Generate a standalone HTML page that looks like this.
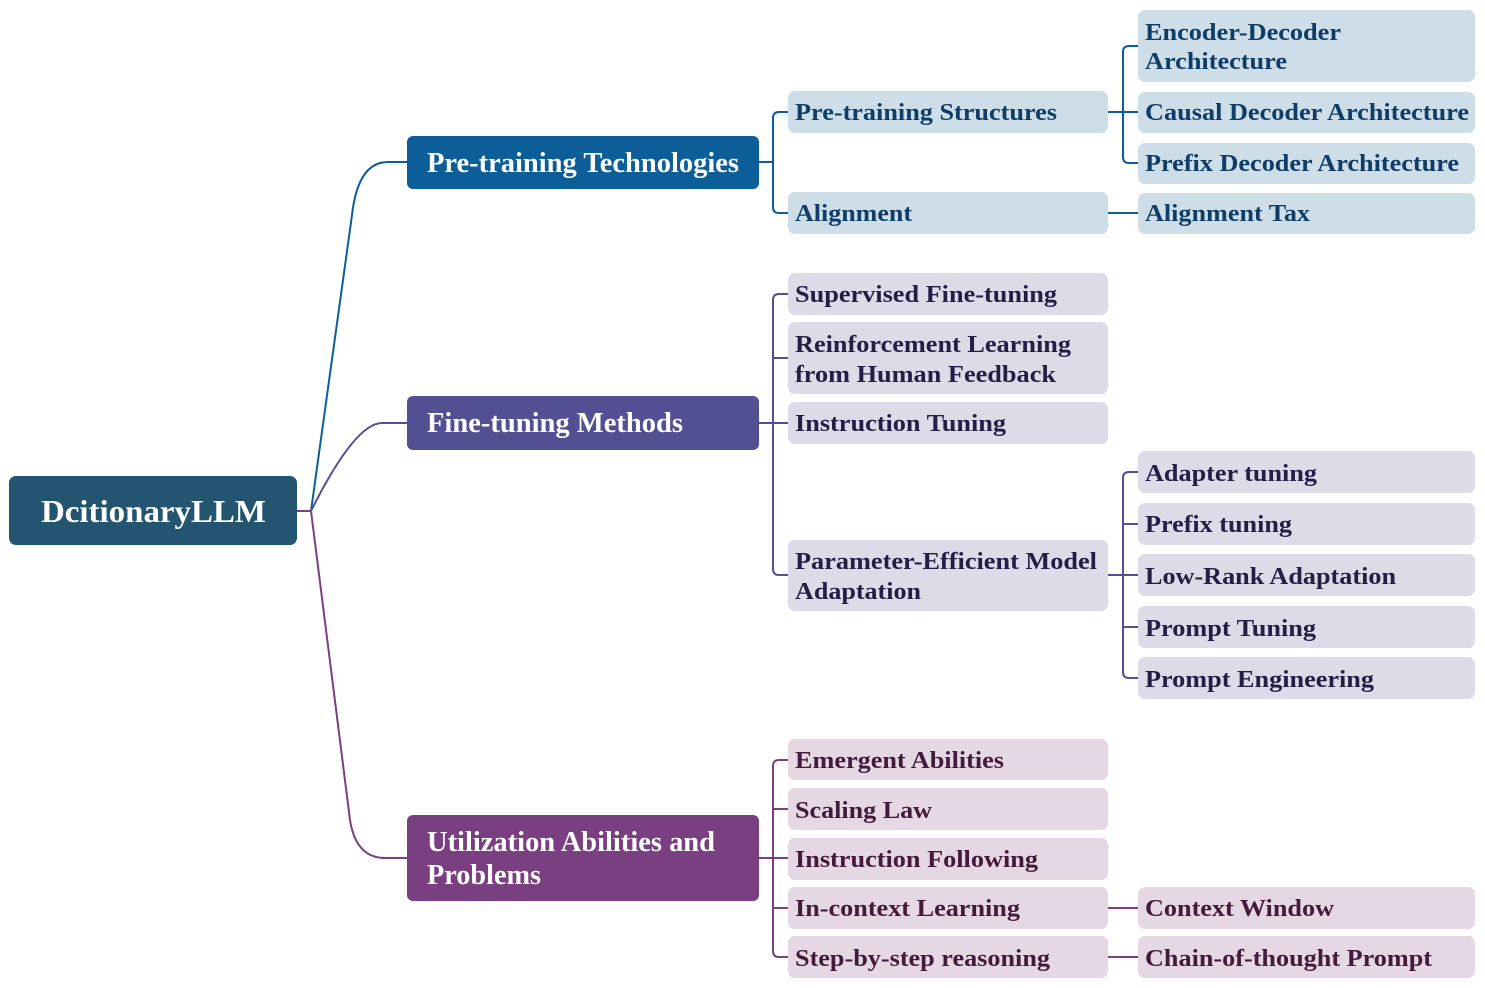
<!DOCTYPE html>
<html><head><meta charset="utf-8"><style>
html,body{margin:0;padding:0;background:#fff;}
svg{display:block;}
text{font-family:"Liberation Serif",serif;font-weight:bold;}
.t1{fill:#0f3d66;font-size:24px;}
.t2{fill:#261d45;font-size:24px;}
.t3{fill:#441a3c;font-size:24px;}
.w{fill:#fff;font-size:28px;}
</style></head><body>
<svg width="1485" height="988" viewBox="0 0 1485 988" xmlns="http://www.w3.org/2000/svg">
<g fill="none" stroke-width="2">
<path d="M297 511 H311 L352 215 Q358 162 388 162 H407" stroke="#0c5e99"/>
<path d="M311 511 Q355 423 382 423 H407" stroke="#524f93"/>
<path d="M297 511 H311 L350 820 Q356 858 385 858 H407" stroke="#7a3f80"/>
<g stroke="#0c5e99">
<path d="M759 162 H773"/>
<path d="M788 112 H779 Q773 112 773 118 V207 Q773 213 779 213 H788"/>
<path d="M1108 112 H1138"/>
<path d="M1138 46 H1129 Q1123 46 1123 52 V157 Q1123 163 1129 163 H1138"/>
<path d="M1108 213 H1138"/>
</g>
<g stroke="#524f93">
<path d="M759 423 H788"/>
<path d="M788 294 H779 Q773 294 773 300 V569 Q773 575 779 575 H788"/>
<path d="M773 358 H788"/>
<path d="M1108 575 H1138"/>
<path d="M1138 472 H1129 Q1123 472 1123 478 V672 Q1123 678 1129 678 H1138"/>
<path d="M1123 524 H1138 M1123 627 H1138"/>
</g>
<g stroke="#7a3f80">
<path d="M759 858 H788"/>
<path d="M788 760 H779 Q773 760 773 766 V951 Q773 957 779 957 H788"/>
<path d="M773 809 H788 M773 908 H788"/>
<path d="M1108 908 H1138 M1108 957 H1138"/>
</g>
</g>
<rect x="9" y="476" width="288" height="69" rx="7" fill="#245570"/>
<rect x="407" y="136" width="352" height="53" rx="6" fill="#0c5e99"/>
<rect x="407" y="396" width="352" height="54" rx="6" fill="#524f93"/>
<rect x="407" y="815" width="352" height="86" rx="6" fill="#7a3f80"/>
<g fill="#cddee9">
<rect x="788" y="91" width="320" height="42" rx="7"/>
<rect x="788" y="192" width="320" height="42" rx="7"/>
<rect x="1138" y="10" width="337" height="72" rx="7"/>
<rect x="1138" y="92" width="337" height="41" rx="7"/>
<rect x="1138" y="143" width="337" height="41" rx="7"/>
<rect x="1138" y="193" width="337" height="41" rx="7"/>
</g>
<g fill="#dddbe8">
<rect x="788" y="273" width="320" height="42" rx="7"/>
<rect x="788" y="322" width="320" height="72" rx="7"/>
<rect x="788" y="402" width="320" height="42" rx="7"/>
<rect x="788" y="540" width="320" height="71" rx="7"/>
<rect x="1138" y="451" width="337" height="42" rx="7"/>
<rect x="1138" y="503" width="337" height="42" rx="7"/>
<rect x="1138" y="554" width="337" height="42" rx="7"/>
<rect x="1138" y="606" width="337" height="42" rx="7"/>
<rect x="1138" y="657" width="337" height="42" rx="7"/>
</g>
<g fill="#e5d8e4">
<rect x="788" y="739" width="320" height="41" rx="7"/>
<rect x="788" y="788" width="320" height="42" rx="7"/>
<rect x="788" y="838" width="320" height="42" rx="7"/>
<rect x="788" y="887" width="320" height="42" rx="7"/>
<rect x="788" y="936" width="320" height="42" rx="7"/>
<rect x="1138" y="887" width="337" height="42" rx="7"/>
<rect x="1138" y="936" width="337" height="42" rx="7"/>
</g>
<text class="w" x="41" y="522" style="font-size:32px" textLength="225" lengthAdjust="spacingAndGlyphs">DcitionaryLLM</text>
<text class="w" x="427" y="172" textLength="312" lengthAdjust="spacingAndGlyphs">Pre-training Technologies</text>
<text class="w" x="427" y="432" textLength="256" lengthAdjust="spacingAndGlyphs">Fine-tuning Methods</text>
<text class="w" x="427" y="851" textLength="288" lengthAdjust="spacingAndGlyphs">Utilization Abilities and</text>
<text class="w" x="427" y="884" textLength="114" lengthAdjust="spacingAndGlyphs">Problems</text>

<text class="t1" x="795" y="120" textLength="262" lengthAdjust="spacingAndGlyphs">Pre-training Structures</text>
<text class="t1" x="795" y="221" textLength="117" lengthAdjust="spacingAndGlyphs">Alignment</text>
<text class="t1" x="1145" y="40" textLength="196" lengthAdjust="spacingAndGlyphs">Encoder-Decoder</text>
<text class="t1" x="1145" y="69" textLength="142" lengthAdjust="spacingAndGlyphs">Architecture</text>
<text class="t1" x="1145" y="120" textLength="324" lengthAdjust="spacingAndGlyphs">Causal Decoder Architecture</text>
<text class="t1" x="1145" y="171" textLength="314" lengthAdjust="spacingAndGlyphs">Prefix Decoder Architecture</text>
<text class="t1" x="1145" y="221" textLength="165" lengthAdjust="spacingAndGlyphs">Alignment Tax</text>

<text class="t2" x="795" y="302" textLength="262" lengthAdjust="spacingAndGlyphs">Supervised Fine-tuning</text>
<text class="t2" x="795" y="352" textLength="276" lengthAdjust="spacingAndGlyphs">Reinforcement Learning</text>
<text class="t2" x="795" y="382" textLength="261" lengthAdjust="spacingAndGlyphs">from Human Feedback</text>
<text class="t2" x="795" y="431" textLength="211" lengthAdjust="spacingAndGlyphs">Instruction Tuning</text>
<text class="t2" x="795" y="569" textLength="302" lengthAdjust="spacingAndGlyphs">Parameter-Efficient Model</text>
<text class="t2" x="795" y="599" textLength="126" lengthAdjust="spacingAndGlyphs">Adaptation</text>
<text class="t2" x="1145" y="481" textLength="172" lengthAdjust="spacingAndGlyphs">Adapter tuning</text>
<text class="t2" x="1145" y="532" textLength="147" lengthAdjust="spacingAndGlyphs">Prefix tuning</text>
<text class="t2" x="1145" y="584" textLength="251" lengthAdjust="spacingAndGlyphs">Low-Rank Adaptation</text>
<text class="t2" x="1145" y="636" textLength="171" lengthAdjust="spacingAndGlyphs">Prompt Tuning</text>
<text class="t2" x="1145" y="687" textLength="229" lengthAdjust="spacingAndGlyphs">Prompt Engineering</text>

<text class="t3" x="795" y="768" textLength="209" lengthAdjust="spacingAndGlyphs">Emergent Abilities</text>
<text class="t3" x="795" y="818" textLength="137" lengthAdjust="spacingAndGlyphs">Scaling Law</text>
<text class="t3" x="795" y="867" textLength="243" lengthAdjust="spacingAndGlyphs">Instruction Following</text>
<text class="t3" x="795" y="916" textLength="225" lengthAdjust="spacingAndGlyphs">In-context Learning</text>
<text class="t3" x="795" y="966" textLength="255" lengthAdjust="spacingAndGlyphs">Step-by-step reasoning</text>
<text class="t3" x="1145" y="916" textLength="189" lengthAdjust="spacingAndGlyphs">Context Window</text>
<text class="t3" x="1145" y="966" textLength="287" lengthAdjust="spacingAndGlyphs">Chain-of-thought Prompt</text>
</svg>
</body></html>
